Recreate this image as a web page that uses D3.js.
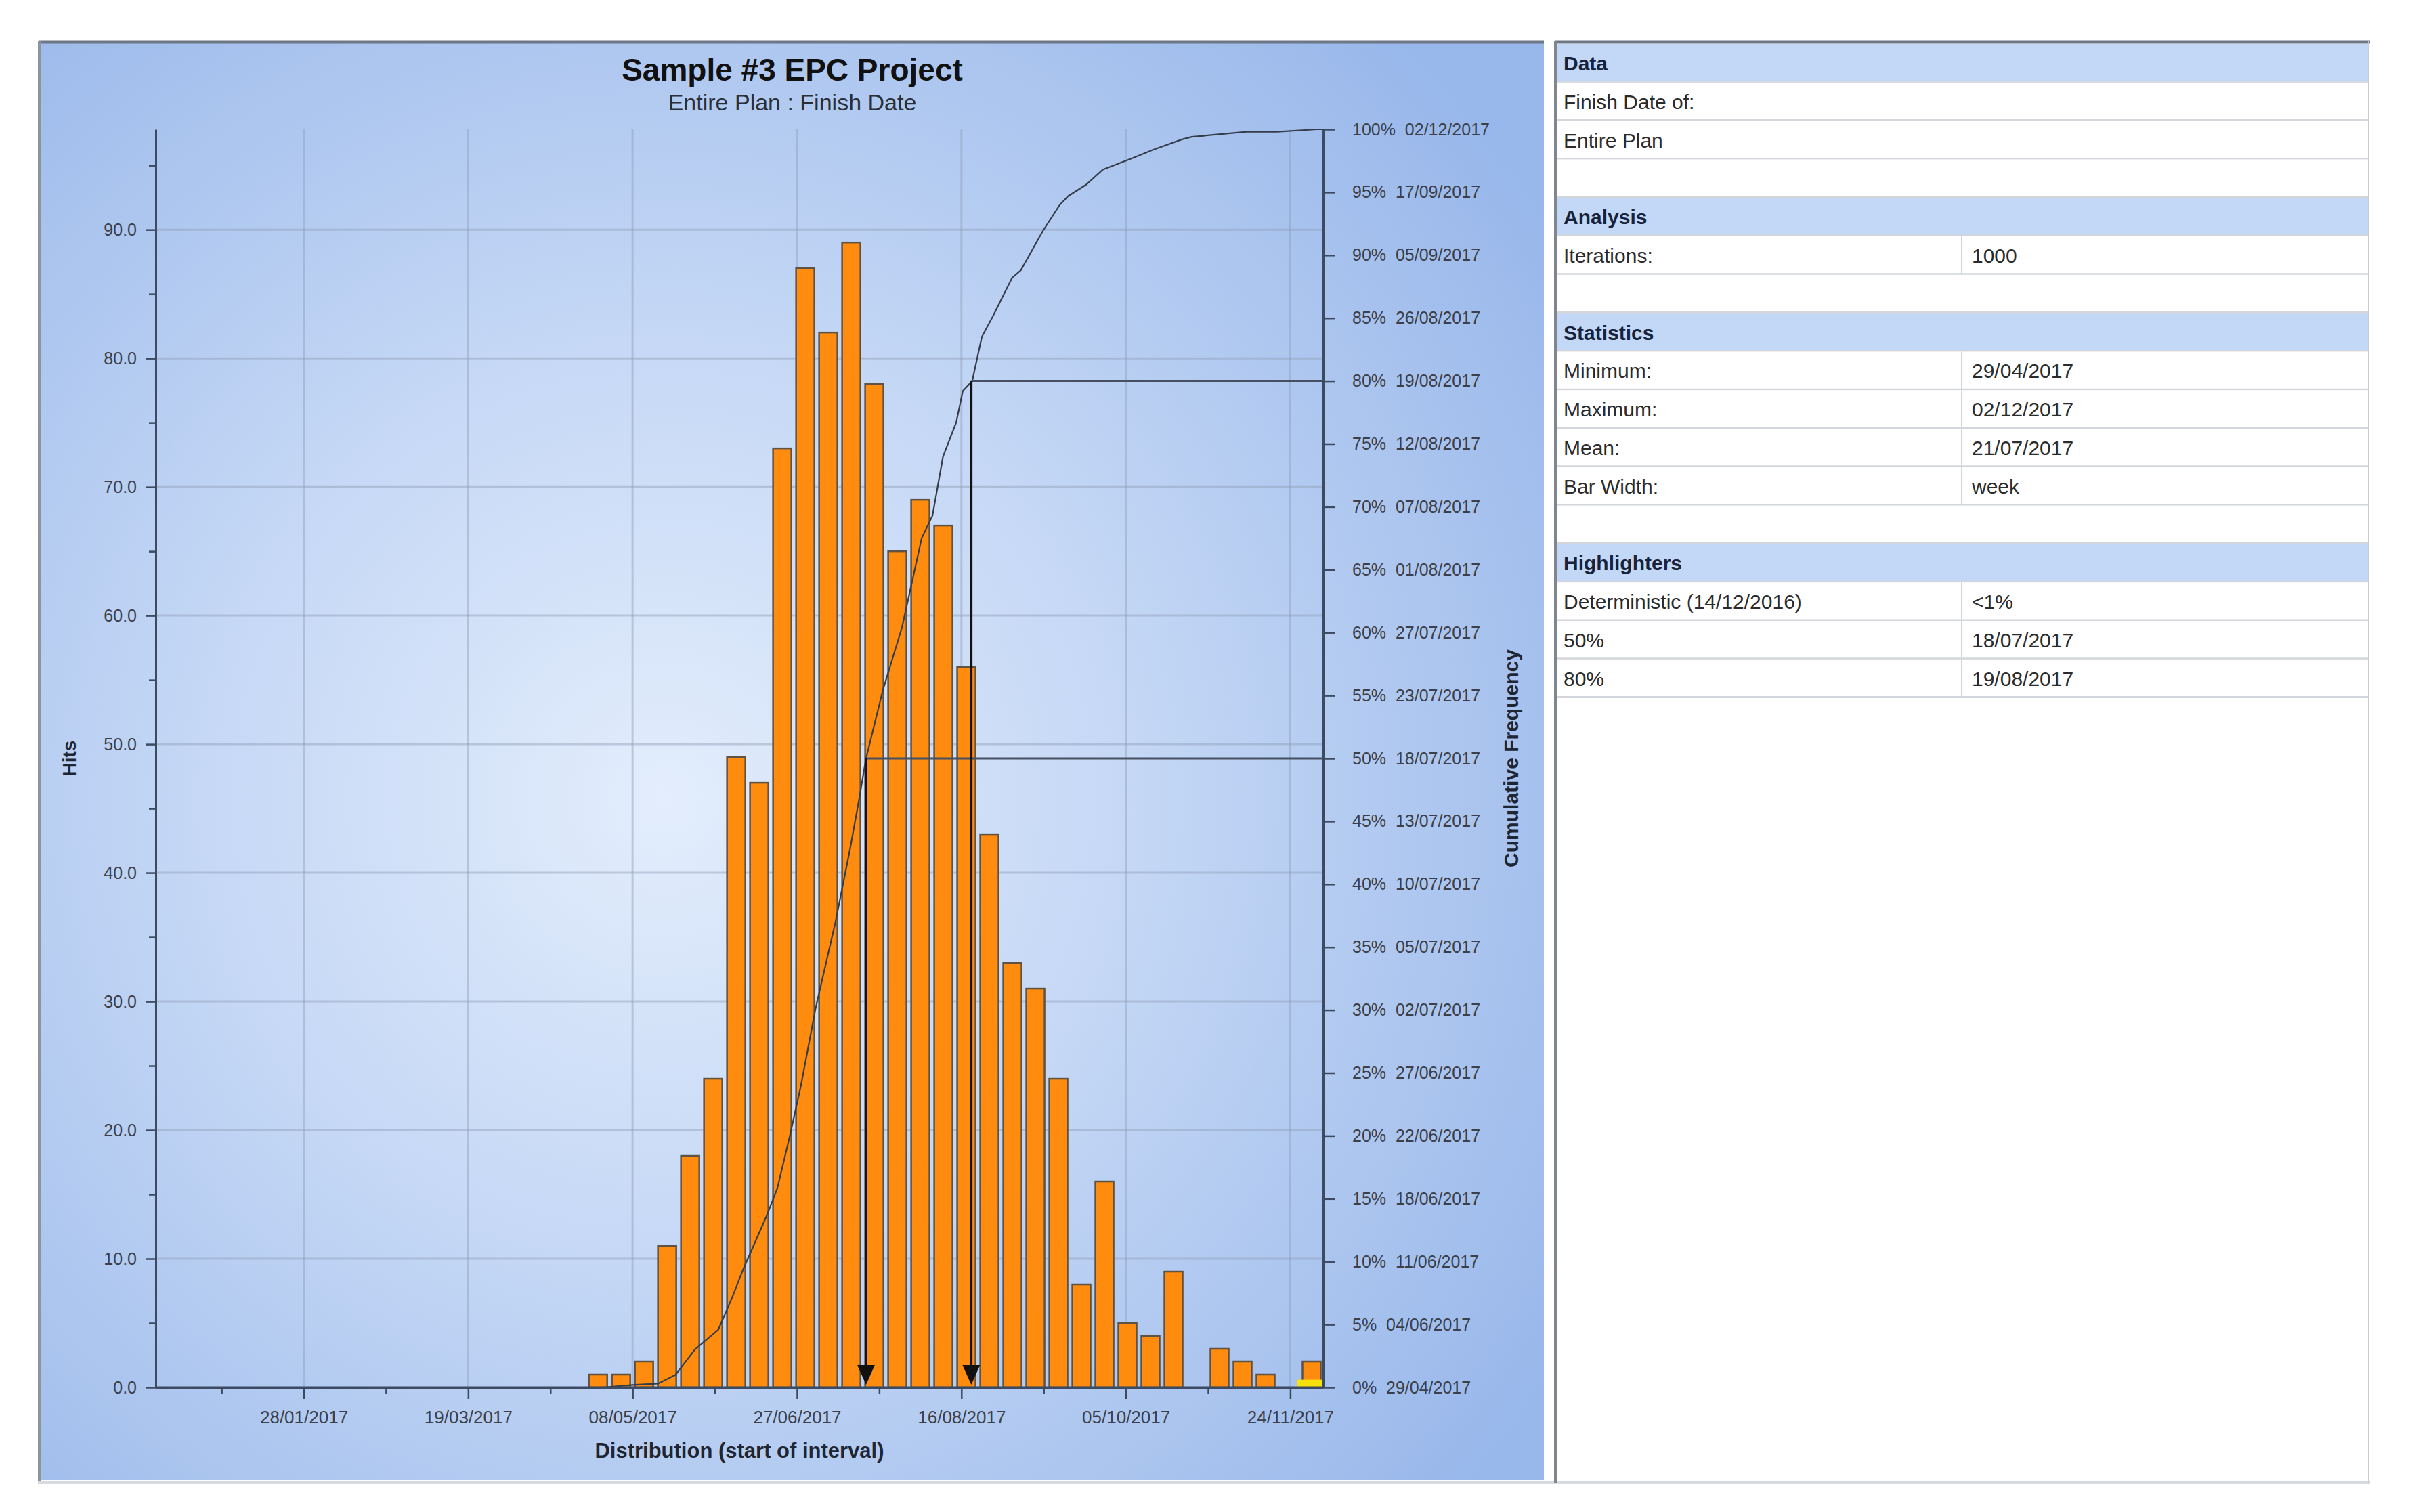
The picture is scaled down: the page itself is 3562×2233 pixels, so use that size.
<!DOCTYPE html>
<html><head><meta charset="utf-8">
<script src="https://cdn.jsdelivr.net/npm/d3@7"></script>
<style>
html,body{margin:0;padding:0;background:#fff;}
svg{display:block;}
text{font-family:"Liberation Sans", Arial, sans-serif;}
</style></head><body>
<svg id="chart" width="3562" height="2233"></svg>
<script>
// ---------------- DATA ----------------
const chartTitle = "Sample #3 EPC Project";
const chartSubtitle = "Entire Plan : Finish Date";
const xTitle = "Distribution (start of interval)";
const yTitle = "Hits";
const y2Title = "Cumulative Frequency";

// weekly bins (start of interval)
const binStarts = ["2017-04-24","2017-05-01","2017-05-08","2017-05-15","2017-05-22","2017-05-29",
  "2017-06-05","2017-06-12","2017-06-19","2017-06-26","2017-07-03","2017-07-10","2017-07-17",
  "2017-07-24","2017-07-31","2017-08-07","2017-08-14","2017-08-21","2017-08-28","2017-09-04",
  "2017-09-11","2017-09-18","2017-09-25","2017-10-02","2017-10-09","2017-10-16","2017-10-23",
  "2017-10-30","2017-11-06","2017-11-13","2017-11-20","2017-11-27"];
const hits = [1,1,2,11,18,24,49,47,73,87,82,89,78,65,69,67,56,43,33,31,24,8,16,5,4,9,0,3,2,1,0,2];

// cumulative frequency curve
const cdfDates = ["2017-04-29T00:00","2017-05-08T00:00","2017-05-15T19:00","2017-05-21T02:00","2017-05-26T22:00",
  "2017-06-03T02:00","2017-06-07T05:00","2017-06-10T12:00","2017-06-17T17:00","2017-06-21T00:00",
  "2017-06-24T22:00","2017-06-28T05:00","2017-07-02T17:00","2017-07-08T17:00","2017-07-13T05:00",
  "2017-07-15T22:00","2017-07-18T00:00","2017-07-23T02:00","2017-07-28T22:00","2017-08-03T22:00",
  "2017-08-07T05:00","2017-08-10T10:00","2017-08-14T10:00","2017-08-16T10:00","2017-08-19T07:00",
  "2017-08-22T05:00","2017-08-25T12:00","2017-08-31T10:00","2017-09-03T02:00","2017-09-09T17:00",
  "2017-09-14T22:00","2017-09-17T12:00","2017-09-22T22:00","2017-09-28T00:00","2017-10-06T22:00",
  "2017-10-13T12:00","2017-10-22T02:00","2017-10-25T00:00","2017-11-10T17:00","2017-11-20T00:00",
  "2017-12-02T00:00","2017-12-04T00:00"];
const cdfPct = [0,0.2,0.3,1.0,3.0,4.6,7.1,9.3,13.6,15.8,20.1,24.0,30.2,37.0,42.9,46.8,50.0,55.4,60.4,67.5,
  69.3,74.0,76.7,79.2,80.0,83.5,85.1,88.2,88.8,91.9,94.0,94.7,95.6,96.8,97.7,98.4,99.2,99.4,99.8,99.8,100,100];

// highlighters
const hlPct = [50, 80];
const hlDates = ["2017-07-18", "2017-08-19"];
const markerBin = ["2017-11-27"];
const markerHits = [0.6];

// axes
const xDomain = ["2016-12-14", "2017-12-04"];
const hitsMax = 97.8;
const yMajorTicks = [0,10,20,30,40,50,60,70,80,90];
const yMinorTicks = [5,15,25,35,45,55,65,75,85,95];
const xMajorTicks = ["2017-01-28","2017-03-19","2017-05-08","2017-06-27","2017-08-16","2017-10-05","2017-11-24"];
const xMinorTicks = ["2017-01-03","2017-02-22","2017-04-13","2017-06-02","2017-07-22","2017-09-10","2017-10-30"];
const pctTicks = [0,5,10,15,20,25,30,35,40,45,50,55,60,65,70,75,80,85,90,95,100];
const pctDates = ["29/04/2017","04/06/2017","11/06/2017","18/06/2017","22/06/2017","27/06/2017",
  "02/07/2017","05/07/2017","10/07/2017","13/07/2017","18/07/2017","23/07/2017","27/07/2017",
  "01/08/2017","07/08/2017","12/08/2017","19/08/2017","26/08/2017","05/09/2017","17/09/2017","02/12/2017"];

// side table
const tableKinds = ["h","r","r","r","h","r","r","h","r","r","r","r","r","h","r","r","r"];
const tableLabels = ["Data","Finish Date of:","Entire Plan","","Analysis","Iterations:","","Statistics",
  "Minimum:","Maximum:","Mean:","Bar Width:","","Highlighters","Deterministic (14/12/2016)","50%","80%"];
const tableValues = [null,null,null,null,null,"1000",null,null,"29/04/2017","02/12/2017","21/07/2017","week",
  null,null,"<1%","18/07/2017","19/08/2017"];

// ---------------- DRAW ----------------
const pD = d3.utcParse("%Y-%m-%d");
const pT = d3.utcParse("%Y-%m-%dT%H:%M");
const svg = d3.select("#chart");

const defs = svg.append("defs");
const rg = defs.append("radialGradient").attr("id","bg").attr("gradientUnits","userSpaceOnUse")
  .attr("cx",980).attr("cy",1180).attr("r",1560);
rg.append("stop").attr("offset",0).attr("stop-color","#e3edfc");
rg.append("stop").attr("offset",0.45).attr("stop-color","#c4d7f5");
rg.append("stop").attr("offset",1).attr("stop-color","#98b7ea");

// chart panel
svg.append("rect").attr("x",59).attr("y",63).attr("width",2221).attr("height",2123).attr("fill","url(#bg)");
svg.append("line").attr("x1",57).attr("x2",2280).attr("y1",62).attr("y2",62).attr("stroke","#6e7785").attr("stroke-width",5);
svg.append("line").attr("x1",58).attr("x2",58).attr("y1",60).attr("y2",2188).attr("stroke","#8d949d").attr("stroke-width",4);
svg.append("line").attr("x1",56).attr("x2",3500).attr("y1",2189).attr("y2",2189).attr("stroke","#d6dbe2").attr("stroke-width",4);

const x = d3.scaleUtc().domain(xDomain.map(pD)).range([230,1954]);
const yH = d3.scaleLinear().domain([0,hitsMax]).range([2049,191]);
const yP = d3.scaleLinear().domain([0,100]).range([2049,191]);

// titles
svg.append("text").attr("x",1170).attr("y",119).attr("text-anchor","middle")
  .attr("font-size",46).attr("font-weight","bold").attr("fill","#111").text(chartTitle);
svg.append("text").attr("x",1170).attr("y",163).attr("text-anchor","middle")
  .attr("font-size",34).attr("fill","#2a2e36").text(chartSubtitle);

// grid
const grid = svg.append("g").attr("stroke","#8f9db5").attr("stroke-opacity",0.45).attr("stroke-width",3);
grid.selectAll("line.h").data(yMajorTicks.slice(1)).join("line")
  .attr("x1",x.range()[0]).attr("x2",x.range()[1]).attr("y1",d=>yH(d)).attr("y2",d=>yH(d));
grid.selectAll("line.v").data(xMajorTicks).join("line")
  .attr("x1",d=>x(pD(d))).attr("x2",d=>x(pD(d))).attr("y1",yH.range()[1]).attr("y2",yH.range()[0]);

// bars
const inset = 3.5;
svg.append("g").selectAll("rect").data(binStarts.map((d,i)=>({d:pD(d),v:hits[i]})).filter(o=>o.v>0)).join("rect")
  .attr("x",o=>x(o.d)+inset)
  .attr("width",o=>x(d3.utcDay.offset(o.d,7))-x(o.d)-2*inset)
  .attr("y",o=>yH(o.v)).attr("height",o=>yH(0)-yH(o.v))
  .attr("fill","#ff8c0e").attr("stroke","#5e5244").attr("stroke-width",2.5);

// marker (yellow)
svg.append("g").selectAll("rect").data(markerBin.map((d,i)=>({d:pD(d),v:markerHits[i]}))).join("rect")
  .attr("x",o=>x(o.d)-4).attr("width",o=>x(d3.utcDay.offset(o.d,7))-x(o.d)+4)
  .attr("y",o=>yH(o.v)).attr("height",o=>yH(0)-yH(o.v)).attr("fill","#f6e20a");

// cumulative curve
const cdf = cdfDates.map((d,i)=>({d:pT(d),p:cdfPct[i]}));
svg.append("path").datum(cdf).attr("fill","none").attr("stroke","#343c4a").attr("stroke-width",2.2)
  .attr("d",d3.line().x(o=>x(o.d)).y(o=>yP(o.p)));

// highlighters
const hl = svg.append("g");
hlPct.forEach((p,i)=>{
  const hx = x(pD(hlDates[i])), hy = yP(p);
  hl.append("line").attr("x1",hx).attr("x2",x.range()[1]).attr("y1",hy).attr("y2",hy)
    .attr("stroke","#465062").attr("stroke-width",3);
  hl.append("line").attr("x1",hx).attr("x2",hx).attr("y1",hy).attr("y2",yP(0)-20)
    .attr("stroke","#111").attr("stroke-width",3.5);
  const tip = yP(0)-4;
  hl.append("path").attr("d",`M${hx-13},${tip-29}L${hx+13},${tip-29}L${hx},${tip}Z`).attr("fill","#111");
});

// axes
const axCol = "#3d4b62";
function styleAxis(g, w){
  g.select(".domain").attr("stroke",axCol).attr("stroke-width",w);
  g.selectAll(".tick line").attr("stroke",axCol).attr("stroke-width",2.5);
  g.selectAll(".tick text").attr("fill","#3a3f4a").attr("font-family","Liberation Sans, Arial, sans-serif");
}
// left
const yTicksAll = yMajorTicks.concat(yMinorTicks).sort((a,b)=>a-b);
const gL = svg.append("g").attr("transform",`translate(${x.range()[0]},0)`)
  .call(d3.axisLeft(yH).tickValues(yTicksAll).tickSize(15).tickSizeOuter(0).tickPadding(13)
    .tickFormat(d=> yMajorTicks.includes(d) ? d3.format(".1f")(d) : ""));
gL.attr("font-size",25);
styleAxis(gL,3);
gL.selectAll(".tick").filter(d=>!yMajorTicks.includes(d)).select("line").attr("x2",-10);

// bottom
const xTicksAll = xMajorTicks.concat(xMinorTicks).map(pD).sort((a,b)=>a-b);
const majSet = new Set(xMajorTicks.map(s=>+pD(s)));
const gB = svg.append("g").attr("transform",`translate(0,${yH(0)})`)
  .call(d3.axisBottom(x).tickValues(xTicksAll).tickSize(17).tickSizeOuter(0)
    .tickFormat(d=> majSet.has(+d) ? d3.utcFormat("%d/%m/%Y")(d) : ""));
gB.attr("font-size",26);
styleAxis(gB,4);
gB.selectAll(".tick").filter(d=>!majSet.has(+d)).select("line").attr("y2",10);
gB.selectAll(".tick text").attr("y",53).attr("dy",0);

// right
const gR = svg.append("g").attr("transform",`translate(${x.range()[1]},0)`)
  .call(d3.axisRight(yP).tickValues(pctTicks).tickSize(18).tickSizeOuter(0).tickPadding(25)
    .tickFormat((d,i)=> d + "%  " + pctDates[i]));
gR.attr("font-size",25);
styleAxis(gR,3);
gR.selectAll(".tick text").style("white-space","pre");

// axis titles
svg.append("text").attr("x",x(d3.utcDay.offset(pD(xDomain[0]), 0)) + (x.range()[1]-x.range()[0])/2).attr("y",2153)
  .attr("text-anchor","middle").attr("font-size",31).attr("font-weight","bold").attr("fill","#1f2633").text(xTitle);
svg.append("text").attr("transform",`translate(112,${(yH.range()[0]+yH.range()[1])/2}) rotate(-90)`)
  .attr("text-anchor","middle").attr("font-size",28).attr("font-weight","bold").attr("fill","#1f2633").text(yTitle);
svg.append("text").attr("transform",`translate(2242,${(yP.range()[0]+yP.range()[1])/2}) rotate(-90)`)
  .attr("text-anchor","middle").attr("font-size",30).attr("font-weight","bold").attr("fill","#1f2633").text(y2Title);

// ---------------- SIDE TABLE ----------------
const tX0 = 2298, tX1 = 3497, tY0 = 65, rowH = 56.8, colX = 2897;
const tbl = svg.append("g");
svg.append("line").attr("x1",2296).attr("x2",3500).attr("y1",62).attr("y2",62).attr("stroke","#6e7785").attr("stroke-width",5);
tableLabels.forEach((lab,i)=>{
  const top = tY0 + i*rowH;
  const isH = tableKinds[i]==="h";
  tbl.append("rect").attr("x",tX0).attr("y",top).attr("width",tX1-tX0).attr("height",rowH)
    .attr("fill", isH ? "#c3d7f7" : "#ffffff");
  tbl.append("line").attr("x1",tX0).attr("x2",tX1).attr("y1",top+rowH-1).attr("y2",top+rowH-1)
    .attr("stroke","#d3d7dc").attr("stroke-width",3);
  if (tableValues[i] !== null) {
    tbl.append("line").attr("x1",colX).attr("x2",colX).attr("y1",top).attr("y2",top+rowH)
      .attr("stroke","#d3d7dc").attr("stroke-width",2);
    tbl.append("text").attr("x",colX+15).attr("y",top+39).attr("font-size",30).attr("fill","#2b2b2b").text(tableValues[i]);
  }
  tbl.append("text").attr("x",2309).attr("y",top+39).attr("font-size",30)
    .attr("font-weight", isH ? "bold" : "normal").attr("fill", isH ? "#17233a" : "#2b2b2b").text(lab);
});
svg.append("line").attr("x1",2297).attr("x2",2297).attr("y1",60).attr("y2",2190).attr("stroke","#7f8690").attr("stroke-width",4);
svg.append("line").attr("x1",3498).attr("x2",3498).attr("y1",60).attr("y2",2190).attr("stroke","#c9cdd3").attr("stroke-width",2);
</script>
</body></html>
